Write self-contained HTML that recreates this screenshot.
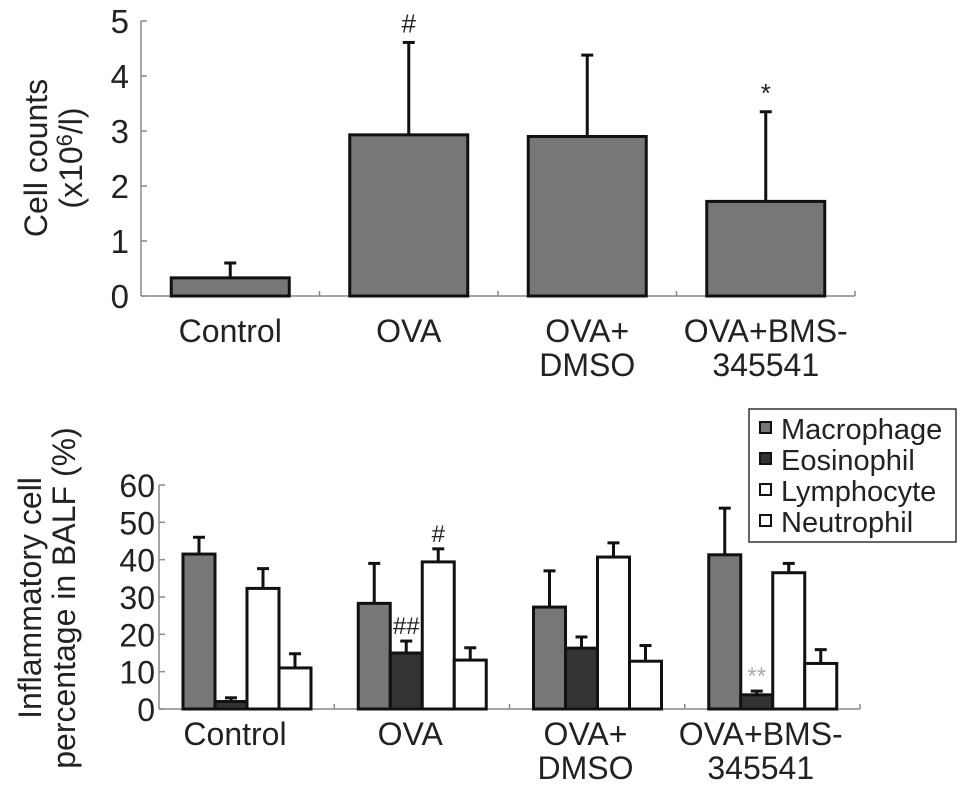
<!DOCTYPE html>
<html><head><meta charset="utf-8"><style>
body{margin:0;background:#fff;}
svg{display:block;font-family:"Liberation Sans",Arial,sans-serif;}
</style></head><body>
<svg id="c" width="969" height="806"></svg>
<script>
const groups1 = ["Control","OVA","OVA+DMSO","OVA+BMS-345541"];
const counts = [0.33, 2.93, 2.9, 1.72];
const countsErr = [0.27, 1.68, 1.48, 1.63];
const countsMarks = ["", "#", "", "*"];
const ticks1 = [0,1,2,3,4,5];
const series = ["Macrophage","Eosinophil","Lymphocyte","Neutrophil"];
const macro = [41.5, 28.3, 27.3, 41.3];
const eos = [2.0, 15.0, 16.3, 3.8];
const lymph = [32.3, 39.4, 40.7, 36.5];
const neut = [11.0, 13.1, 12.8, 12.2];
const macroErr = [4.5, 10.7, 9.7, 12.5];
const eosErr = [1.0, 3.2, 3.0, 1.0];
const lymphErr = [5.3, 3.5, 3.8, 2.5];
const neutErr = [3.8, 3.3, 4.2, 3.7];
const marks2 = [["","","",""],["","##","#",""],["","","",""],["","**","",""]];
const ticks2 = [0,10,20,30,40,50,60];
const colors = ["#777","#333","#fff","#fff"];

const NS="http://www.w3.org/2000/svg";
const svg=document.getElementById('c');
function el(t,a,p){const e=document.createElementNS(NS,t);for(const k in a)e.setAttribute(k,a[k]);(p||svg).appendChild(e);return e;}
function txt(x,y,s,size,anchor,p,fill){const e=el('text',{x:x,y:y,'font-size':size,'text-anchor':anchor||'middle',fill:fill||'#222'},p);e.textContent=s;return e;}

// top chart
const y1=v=>296-v*55;
const x1L=141, x1R=855, cw1=(x1R-x1L)/4;
const g1=el('g',{});


el('line',{x1:x1L,y1:y1(0),x2:x1R,y2:y1(0),stroke:'#888','stroke-width':1.5},g1);
el('line',{x1:x1L,y1:y1(0),x2:x1L,y2:y1(5),stroke:'#888','stroke-width':1.5},g1);
ticks1.forEach(t=>{el('line',{x1:x1L,y1:y1(t),x2:x1L+6,y2:y1(t),stroke:'#888','stroke-width':1.5},g1);
 const e=txt(x1L-12,y1(t)+12,String(t),33,'end',g1);});
for(let i=1;i<=4;i++)el('line',{x1:x1L+cw1*i,y1:y1(0),x2:x1L+cw1*i,y2:y1(0)-5,stroke:'#888','stroke-width':1.5},g1);
counts.forEach((v,i)=>{
 const cx=x1L+cw1*(i+0.5), w=118;
 const r=el('rect',{x:cx-w/2,y:y1(v),width:w,height:y1(0)-y1(v),fill:'#777',stroke:'#111','stroke-width':3},g1);
 
 
 const top=y1(v+countsErr[i]);
 el('line',{x1:cx,y1:y1(v),x2:cx,y2:top,stroke:'#111','stroke-width':3},g1);
 el('line',{x1:cx-6,y1:top,x2:cx+6,y2:top,stroke:'#111','stroke-width':3},g1);
 if(countsMarks[i]){txt(cx,top-10,countsMarks[i],26,'middle',g1);}
});
const xl1=[["Control"],["OVA"],["OVA+","DMSO"],["OVA+BMS-","345541"]];
xl1.forEach((ls,i)=>{const cx=x1L+cw1*(i+0.5);ls.forEach((l,j)=>{const e=txt(cx,342+j*34,l,32,'middle',g1);});});
const yt=el('text',{transform:'rotate(-90)','font-size':32,'text-anchor':'middle',fill:'#222'},g1);


yt.innerHTML='<tspan x="-158" y="47">Cell counts</tspan>';
const yt2=el('text',{transform:'rotate(-90)','font-size':32,'text-anchor':'middle',fill:'#222'},g1);


yt2.innerHTML='<tspan x="-158" y="82">(x10<tspan dy="-10" font-size="22">6</tspan><tspan dy="10">/l)</tspan></tspan>';

// bottom chart
const y2=v=>709-v*(224/60);
const x2L=159, x2R=860, cw2=(x2R-x2L)/4;
const g2=el('g',{});


el('line',{x1:x2L,y1:y2(0),x2:x2R,y2:y2(0),stroke:'#888','stroke-width':1.5},g2);
el('line',{x1:x2L,y1:y2(0),x2:x2L,y2:y2(60),stroke:'#888','stroke-width':1.5},g2);
ticks2.forEach(t=>{el('line',{x1:x2L,y1:y2(t),x2:x2L+6,y2:y2(t),stroke:'#888','stroke-width':1.5},g2);
 const e=txt(x2L-4,y2(t)+12,String(t),32,'end',g2);});
for(let i=1;i<=4;i++)el('line',{x1:x2L+cw2*i,y1:y2(0),x2:x2L+cw2*i,y2:y2(0)-5,stroke:'#888','stroke-width':1.5},g2);
const vals=[macro,eos,lymph,neut], errs=[macroErr,eosErr,lymphErr,neutErr];
for(let g=0;g<4;g++){
 for(let s=0;s<4;s++){
  const bw=32, bx=x2L+cw2*g+24+s*bw, v=vals[s][g];
  const r=el('rect',{x:bx,y:y2(v),width:bw,height:y2(0)-y2(v),fill:colors[s],stroke:'#111','stroke-width':3},g2);
  
  
  const cx=bx+bw/2, top=y2(v+errs[s][g]);
  el('line',{x1:cx,y1:y2(v),x2:cx,y2:top,stroke:'#111','stroke-width':3},g2);
  el('line',{x1:cx-6,y1:top,x2:cx+6,y2:top,stroke:'#111','stroke-width':3},g2);
  if(marks2[g][s]){const m=marks2[g][s];txt(cx,top-7,m,24,'middle',g2,m=='**'?'#aaa':'#222');}
 }
}
xl1.forEach((ls,i)=>{const cx=x2L+cw2*i+76;ls.forEach((l,j)=>{const e=txt(cx,745+j*34,l,32,'middle',g2);});});
const yt3=el('text',{transform:'rotate(-90)','font-size':32,'text-anchor':'middle',fill:'#222'},g2);


yt3.innerHTML='<tspan x="-598" y="41">Inflammatory cell</tspan><tspan x="-598" y="75">percentage in BALF (%)</tspan>';

// legend
const lg=el('g',{});


el('rect',{x:749,y:409,width:207,height:133,fill:'#fff',stroke:'#333','stroke-width':1.5},lg);
series.forEach((s,i)=>{
 const yy=428+i*31;
 const e=el('g',{},lg);
 
 
 el('rect',{x:760,y:yy-6,width:11,height:11,fill:colors[i],stroke:'#111','stroke-width':2},e);
 txt(781,yy+11,s,29,'start',e);
});
</script>
</body></html>
